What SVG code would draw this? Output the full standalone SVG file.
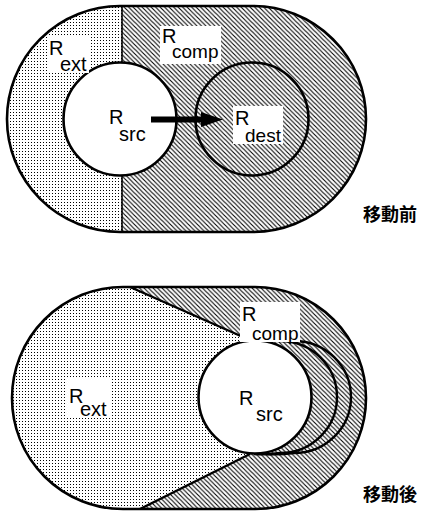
<svg xmlns="http://www.w3.org/2000/svg" width="427" height="513" viewBox="0 0 427 513">
<defs>
<pattern id="dots" width="3" height="3" patternUnits="userSpaceOnUse"><rect width="3" height="3" fill="#fff"/><rect x="1" y="1" width="1" height="1" fill="#000"/></pattern>
<pattern id="hatch" width="4.5" height="4.5" patternUnits="userSpaceOnUse"><rect width="4.5" height="4.5" fill="#fff"/><path d="M-1,-1 L5.5,5.5 M-1,3.5 L1,5.5 M3.5,-1 L5.5,1" stroke="#000" stroke-width="1.1"/></pattern>
<clipPath id="leftHalf"><rect x="0" y="0" width="122" height="260"/></clipPath>
<clipPath id="rightHalf"><rect x="122" y="0" width="305" height="260"/></clipPath>
</defs>
<style>
.outline{fill:none;stroke:#000;stroke-width:2.6}
.circ{stroke:#000;stroke-width:2.6}
.line{stroke:#000;stroke-width:2.4;fill:none}
.lbl{fill:#fff}
.t{font-family:"Liberation Sans",Arial,sans-serif;font-size:20px;fill:#000}
.s{font-family:"Liberation Sans",Arial,sans-serif;font-size:19px;fill:#000}
.jp{font-family:"Noto Sans CJK JP",sans-serif;font-size:18px;font-weight:bold;fill:#000}
</style>
<g id="before">
<g id="before-ext"><rect x="7" y="6" width="359" height="226" rx="113" ry="113" fill="url(#dots)" clip-path="url(#leftHalf)"/></g>
<g id="before-comp"><rect x="7" y="6" width="359" height="226" rx="113" ry="113" fill="url(#hatch)" clip-path="url(#rightHalf)"/></g>
<g id="before-outer"><rect class="outline" x="7" y="6" width="359" height="226" rx="113" ry="113"/><line x1="122" y1="6" x2="122" y2="232" stroke="#000" stroke-width="1.6"/></g>
<g id="before-dest"><circle class="circ" cx="252" cy="119" r="56.5" fill="none"/></g>
<g id="before-src"><circle class="circ" cx="120" cy="119" r="56.5" fill="#fff"/></g>
<g id="before-labels">
<rect class="lbl" x="47" y="37" width="42" height="36"/>
<text class="t" x="49" y="55">R</text><text class="t" x="60" y="71">ext</text>
<rect class="lbl" x="160" y="26" width="61" height="38"/>
<text class="t" x="162" y="43">R</text><text class="s" x="172" y="58">comp</text>
<text class="t" x="109" y="124">R</text><text class="t" x="119" y="141">src</text>
<rect class="lbl" x="233" y="106" width="50" height="38"/>
<text class="t" x="235" y="125">R</text><text class="s" x="245" y="142">dest</text>
</g>
<g id="connectors">
<line x1="151" y1="119.5" x2="205" y2="119.5" stroke="#000" stroke-width="6"/>
<polygon points="201,112 223,119.5 201,127" fill="#000"/>
</g>
<text class="jp" x="363" y="221">移動前</text>
</g>
<g id="after">
<g id="after-ext"><rect x="12" y="287" width="354" height="222" rx="111" ry="111" fill="url(#dots)"/></g>
<g id="after-comp"><path d="M130,287 L255,287 A111,111 0 0 1 255,509 L140,509 L250,454 L255,397 L252,341 Z" fill="url(#hatch)"/></g>
<g id="after-outer"><rect class="outline" x="12" y="287" width="354" height="222" rx="111" ry="111"/>
<path class="line" d="M130,287 L252,341"/><path class="line" d="M140,509 L250,454"/></g>
<g id="after-arcs">
<path class="line" d="M252,341 Q266,340 280,341 A57,56 0 0 1 280,453 Q266,455 254,454"/>
<path class="line" d="M264,342 Q280,340 294,341 A57,56 0 0 1 294,453 Q279,455 266,454"/>
</g>
<g id="after-src"><circle class="circ" cx="255" cy="397" r="56.5" fill="#fff"/></g>
<g id="after-labels">
<rect class="lbl" x="240" y="302" width="60" height="40"/>
<text class="t" x="242" y="321">R</text><text class="s" x="252" y="340">comp</text>
<rect class="lbl" x="66" y="379" width="44" height="38"/>
<text class="t" x="69" y="403">R</text><text class="t" x="80" y="416">ext</text>
<text class="t" x="239" y="405">R</text><text class="t" x="256" y="421">src</text>
</g>
<text class="jp" x="363" y="501">移動後</text>
</g>
</svg>
